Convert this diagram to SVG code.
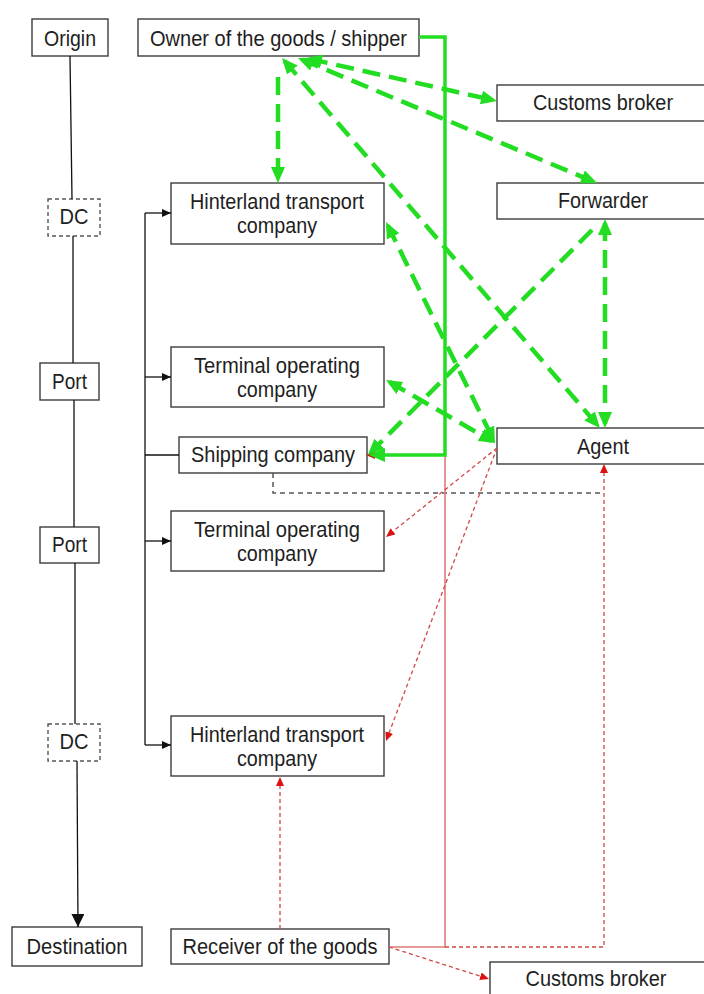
<svg xmlns="http://www.w3.org/2000/svg" width="704" height="994" viewBox="0 0 704 994">
  <style>
    .box { fill: #ffffff; stroke: #3c3c3c; stroke-width: 1.4; }
    .dc { fill: #ffffff; stroke: #555555; stroke-width: 1.4; stroke-dasharray: 4 3; }
    .lbl { font-family: "Liberation Sans", Arial, sans-serif; font-size: 22px; fill: #1e1e1e; text-anchor: middle; }
    .flow { fill: none; stroke: #111111; stroke-width: 1.3; }
    .gdash { fill: none; stroke: #22dd22; stroke-width: 4.5; stroke-dasharray: 18 9; }
    .gsolid { fill: none; stroke: #22dd22; stroke-width: 3.5; }
    .rsolid { fill: none; stroke: #e07a7a; stroke-width: 1.6; }
    .rdot { fill: none; stroke: #d04848; stroke-width: 1.3; stroke-dasharray: 4 3; }
    .gray { fill: none; stroke: #555555; stroke-width: 1.5; stroke-dasharray: 5 4; }
  </style>
  <defs>
    <marker id="gArrow" viewBox="0 0 16 14" refX="12" refY="7" markerWidth="16" markerHeight="14" orient="auto-start-reverse" markerUnits="userSpaceOnUse">
      <path d="M0,0 L16,7 L0,14 z" fill="#22dd22"/>
    </marker>
    <marker id="rArrow" viewBox="0 0 9 8" refX="7" refY="4" markerWidth="9" markerHeight="8" orient="auto" markerUnits="userSpaceOnUse">
      <path d="M0,0 L9,4 L0,8 z" fill="#dd1111"/>
    </marker>
    <marker id="bArrow" viewBox="0 0 9 8" refX="9" refY="4" markerWidth="9" markerHeight="8" orient="auto" markerUnits="userSpaceOnUse">
      <path d="M0,0 L9,4 L0,8 z" fill="#111111"/>
    </marker>
    <marker id="bArrowBig" viewBox="0 0 13 13" refX="13" refY="6.5" markerWidth="13" markerHeight="13" orient="auto" markerUnits="userSpaceOnUse">
      <path d="M0,0 L13,6.5 L0,13 z" fill="#111111"/>
    </marker>
  </defs>

  <!-- nodes -->
  <g id="origin"><rect class="box" x="32" y="19" width="76" height="37"/><text class="lbl" x="70" y="45.5" textLength="52" lengthAdjust="spacingAndGlyphs">Origin</text></g>
  <g id="owner"><rect class="box" x="138" y="19" width="281" height="37"/><text class="lbl" x="278.5" y="45.5" textLength="257" lengthAdjust="spacingAndGlyphs">Owner of the goods / shipper</text></g>
  <g id="customs-broker-top"><rect class="box" x="497" y="85" width="214" height="36"/><text class="lbl" x="603" y="110" textLength="140" lengthAdjust="spacingAndGlyphs">Customs broker</text></g>
  <g id="forwarder"><rect class="box" x="497" y="183" width="214" height="36"/><text class="lbl" x="603" y="208" textLength="90" lengthAdjust="spacingAndGlyphs">Forwarder</text></g>
  <g id="dc-1"><rect class="dc" x="48" y="199" width="52" height="37"/><text class="lbl" x="74" y="224" textLength="29" lengthAdjust="spacingAndGlyphs">DC</text></g>
  <g id="hinterland-1"><rect class="box" x="171" y="183" width="213" height="61"/><text class="lbl" x="277" y="209" textLength="174" lengthAdjust="spacingAndGlyphs">Hinterland transport</text><text class="lbl" x="277" y="233" textLength="80" lengthAdjust="spacingAndGlyphs">company</text></g>
  <g id="port-1"><rect class="box" x="40" y="363" width="59" height="37"/><text class="lbl" x="69.5" y="388.5" textLength="35" lengthAdjust="spacingAndGlyphs">Port</text></g>
  <g id="terminal-1"><rect class="box" x="171" y="347" width="213" height="60"/><text class="lbl" x="277" y="373" textLength="166" lengthAdjust="spacingAndGlyphs">Terminal operating</text><text class="lbl" x="277" y="397" textLength="80" lengthAdjust="spacingAndGlyphs">company</text></g>
  <g id="shipping"><rect class="box" x="179" y="437" width="188" height="36"/><text class="lbl" x="273" y="462" textLength="164" lengthAdjust="spacingAndGlyphs">Shipping company</text></g>
  <g id="agent"><rect class="box" x="497" y="428" width="214" height="36"/><text class="lbl" x="603" y="453.5" textLength="52" lengthAdjust="spacingAndGlyphs">Agent</text></g>
  <g id="port-2"><rect class="box" x="40" y="527" width="59" height="36"/><text class="lbl" x="69.5" y="552" textLength="35" lengthAdjust="spacingAndGlyphs">Port</text></g>
  <g id="terminal-2"><rect class="box" x="171" y="511" width="213" height="60"/><text class="lbl" x="277" y="537" textLength="166" lengthAdjust="spacingAndGlyphs">Terminal operating</text><text class="lbl" x="277" y="561" textLength="80" lengthAdjust="spacingAndGlyphs">company</text></g>
  <g id="dc-2"><rect class="dc" x="48" y="724" width="52" height="37"/><text class="lbl" x="74" y="748.5" textLength="29" lengthAdjust="spacingAndGlyphs">DC</text></g>
  <g id="hinterland-2"><rect class="box" x="171" y="716" width="213" height="60"/><text class="lbl" x="277" y="741.5" textLength="174" lengthAdjust="spacingAndGlyphs">Hinterland transport</text><text class="lbl" x="277" y="765.5" textLength="80" lengthAdjust="spacingAndGlyphs">company</text></g>
  <g id="destination"><rect class="box" x="12" y="927" width="130" height="39"/><text class="lbl" x="77" y="953.5" textLength="101" lengthAdjust="spacingAndGlyphs">Destination</text></g>
  <g id="receiver"><rect class="box" x="171" y="929" width="218" height="35"/><text class="lbl" x="280" y="954" textLength="195" lengthAdjust="spacingAndGlyphs">Receiver of the goods</text></g>
  <g id="customs-broker-bottom"><rect class="box" x="490" y="962" width="222" height="40"/><text class="lbl" x="596" y="986" textLength="141" lengthAdjust="spacingAndGlyphs">Customs broker</text></g>

  <!-- connectors -->
  <g id="connectors">
    <!-- goods flow chain -->
    <path class="flow" d="M70,56 L72,199"/>
    <path class="flow" d="M73,236 L73,363"/>
    <path class="flow" d="M74,400 L74,527"/>
    <path class="flow" d="M75,563 L75,724"/>
    <path class="flow" d="M77,761 L78,927" marker-end="url(#bArrowBig)"/>
    <!-- transport bus -->
    <path class="flow" d="M145,213 V745"/>
    <path class="flow" d="M145,213 H171" marker-end="url(#bArrow)"/>
    <path class="flow" d="M145,377 H171" marker-end="url(#bArrow)"/>
    <path class="flow" d="M145,455 H179"/>
    <path class="flow" d="M145,541 H171" marker-end="url(#bArrow)"/>
    <path class="flow" d="M145,745 H171" marker-end="url(#bArrow)"/>

    <!-- shipping company to agent -->
    <path class="gray" d="M273,473 V493 H604"/>

    <!-- receiver side (red) -->
    <path class="rsolid" d="M389,947 H445 V455 H368" marker-end="url(#rArrow)"/>
    <path class="rdot" d="M497,448 L387.6,535.7" marker-end="url(#rArrow)"/>
    <path class="rdot" d="M497,448 L386.7,739.1" marker-end="url(#rArrow)"/>
    <path class="rdot" d="M280,929 V779" marker-end="url(#rArrow)"/>
    <path class="rdot" d="M445,947 H604 V466" marker-end="url(#rArrow)"/>
    <path class="rdot" d="M389,947 L487.1,978.4" marker-end="url(#rArrow)"/>

    <!-- shipper side (green) -->
    <path class="gsolid" d="M419,37 H445 V455 H373" marker-end="url(#gArrow)"/>
    <path class="gdash" d="M278,77 V179" marker-end="url(#gArrow)"/>
    <path class="gdash" d="M284.6,61 L597.4,425" marker-start="url(#gArrow)" marker-end="url(#gArrow)"/>
    <path class="gdash" d="M309.9,58.9 L493.1,100.1" marker-start="url(#gArrow)" marker-end="url(#gArrow)"/>
    <path class="gdash" d="M301.7,59.5 L593.3,181.5" marker-start="url(#gArrow)" marker-end="url(#gArrow)"/>
    <path class="gdash" d="M387.8,225.6 L493.2,439.4" marker-start="url(#gArrow)" marker-end="url(#gArrow)"/>
    <path class="gdash" d="M389.5,382 L491.5,441" marker-start="url(#gArrow)" marker-end="url(#gArrow)"/>
    <path class="gdash" d="M592,230 L370.8,452.2" marker-end="url(#gArrow)"/>
    <path class="gdash" d="M605,223 V424" marker-start="url(#gArrow)" marker-end="url(#gArrow)"/>
  </g>
</svg>
